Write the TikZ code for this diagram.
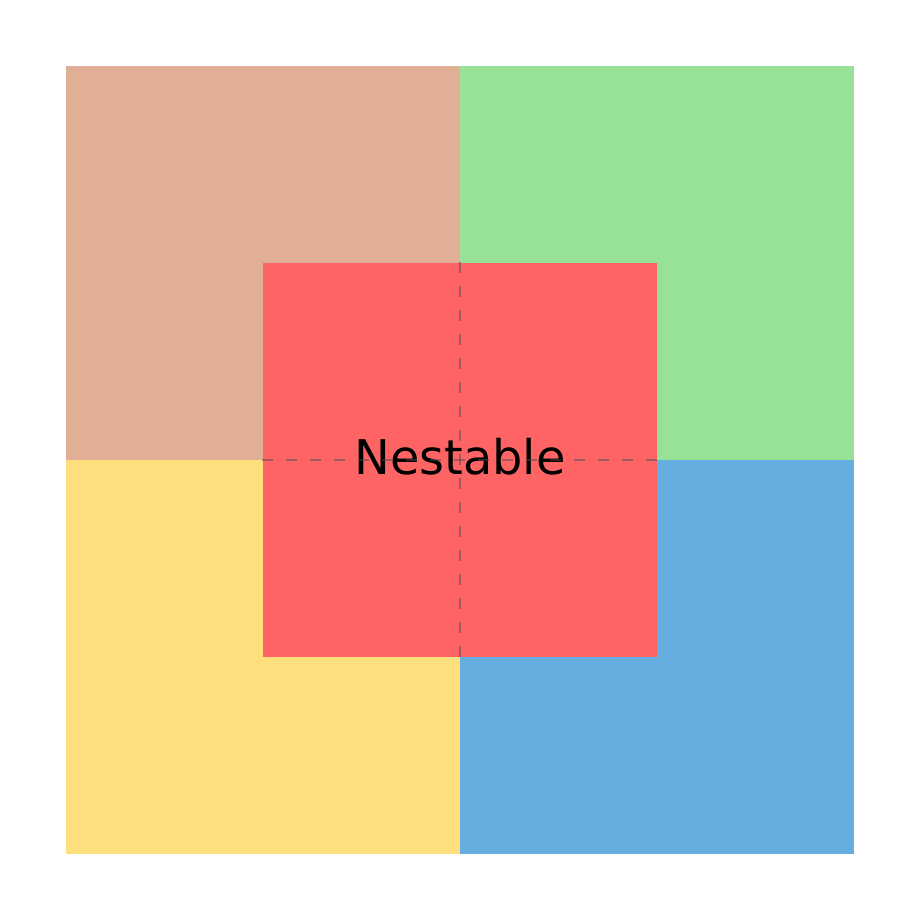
\documentclass[tikz,border=0pt]{standalone}
\usepackage{fontspec}
\setmainfont{DejaVu Sans}
\usepackage{tikz}
\usetikzlibrary{positioning}

\definecolor{tlclr}{RGB}{224,175,150}
\definecolor{trclr}{RGB}{152,226,152}
\definecolor{blclr}{RGB}{255,223,125}
\definecolor{brclr}{RGB}{100,175,223}
\definecolor{nestclr}{RGB}{255,100,100}

\begin{document}
\begin{tikzpicture}[
  quad/.style={draw=none, inner sep=0pt, minimum size=3.94cm},
  nest/.style={draw=none, fill=nestclr, inner sep=0pt, minimum size=3.94cm},
  guide/.style={gray!60!black, dash pattern=on 0.105cm off 0.135cm,
                line width=0.6pt, opacity=0.5}
]
  \useasboundingbox (0,0) rectangle (9.2,9.2);

  \node[quad, fill=tlclr] (tl) at (2.63,6.57) {};
  \node[quad, fill=trclr] (tr) at (6.57,6.57) {};
  \node[quad, fill=blclr] (bl) at (2.63,2.63) {};
  \node[quad, fill=brclr] (br) at (6.57,2.63) {};
  \node[nest] (box) at (4.6,4.6) {};
  \node[font=\fontsize{13.6}{16}\selectfont] (lbl) at (4.6,4.63) {Nestable};

  \draw[guide] (box.west)  -- (box.east);
  \draw[guide] (box.north) -- (box.south);
\end{tikzpicture}
\end{document}
